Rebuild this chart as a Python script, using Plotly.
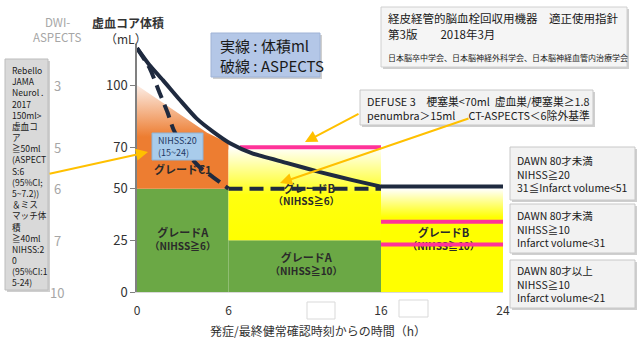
import plotly.graph_objects as go

# ---------------- data ----------------
x_ticks = [0, 6, 16, 24]
y_ticks = [0, 25, 50, 70, 100]
aspects_labels = ["10", "7", "6", "5", "3"]

# solid curve: core volume (mL)
solid_time = [0, 0.8, 1.7, 2.8, 3.9, 5.0, 6.1, 7.6, 9.8, 12.0, 14.2, 16, 24]
solid_vol = [118, 110, 102.5, 93, 84, 77.5, 72, 67, 62.5, 58, 54, 51, 51]

# dashed curve: ASPECTS
dash_time = [0, 0.85, 1.5, 2.0, 2.4, 3.3, 4.1, 5.0, 6.0, 16]
dash_vol = [118, 108, 96, 87, 78.5, 67, 60.5, 55.5, 50, 50]

# regions
greenA1_x = [0, 6, 6, 0]
greenA1_y = [0, 0, 50, 50]
orangeC1_x = [0, 0, 4.6, 6, 6]
orangeC1_y = [50, 100, 77, 72, 50]
greenA2_x = [6, 16, 16, 6]
greenA2_y = [0, 0, 25, 25]
yellow1_x = [6, 16, 16, 6]
yellow1_y = [25, 25, 69, 69]
yellow2_x = [16, 24, 24, 16]
yellow2_y = [0, 0, 50, 50]

# pink threshold lines
pink1_x, pink1_y = [6.75, 16], [70, 70]
pink2_x, pink2_y = [16, 24], [34, 34]
pink3_x, pink3_y = [16, 24], [23, 23]

FONT = "Noto Sans CJK JP, Noto Sans, sans-serif"

# --------------- helpers (pixel -> paper) ---------------
L, R, B, T = 137, 503, 292, 44
def px(x):
    return (x - L) / (R - L)
def py(y):
    return (B - y) / (B - T)

fig = go.Figure()

def region(xs, ys, color=None, grad=None):
    kw = dict(x=xs, y=ys, fill="toself", mode="lines", line=dict(width=0),
              hoverinfo="skip", showlegend=False)
    if grad:
        kw["fillgradient"] = dict(type="vertical", colorscale=grad)
        kw["fillcolor"] = grad[-1][1]
    else:
        kw["fillcolor"] = color
    fig.add_trace(go.Scatter(**kw))

GREEN = "#6BA845"
region(greenA1_x, greenA1_y, GREEN)
region(orangeC1_x, orangeC1_y, grad=[[0, "#ED7D31"], [0.5, "#ED7D31"], [1, "#FCEDE6"]])
region(greenA2_x, greenA2_y, GREEN)
region(yellow1_x, yellow1_y, grad=[[0, "#FFFF00"], [0.5, "#FFFF10"], [1, "#FFFFF2"]])
region(yellow2_x, yellow2_y, grad=[[0, "#FFFF00"], [0.72, "#FFFF00"], [1, "#FFFFFF"]])

# region labels (drawn beneath lines)
def label(x, y, text, size=11):
    fig.add_trace(go.Scatter(x=[x], y=[y], mode="text", text=[text],
                             textfont=dict(family=FONT, size=size, color="#2A2A2A"),
                             hoverinfo="skip", showlegend=False))

label(3.0, 58.5, "<b>グレードC1</b>")
label(3.0, 28, "<b>グレードA</b>")
label(3.0, 21.3, "<b>（NIHSS≧6）</b>", 10)
label(11.1, 16, "<b>グレードA</b>")
label(11.1, 9.2, "<b>（NIHSS≧10）</b>", 10)
label(20.1, 28, "<b>グレードB</b>")
label(20.1, 21.3, "<b>（NIHSS≧10）</b>", 10)
label(11.3, 49.4, "<b>グレードB</b>")
label(11.1, 43.3, "<b>（NIHSS≧6）</b>", 10)

PINK = "#FF3399"
for xs, ys in [(pink1_x, pink1_y), (pink2_x, pink2_y), (pink3_x, pink3_y)]:
    fig.add_trace(go.Scatter(x=xs, y=ys, mode="lines", line=dict(color=PINK, width=4),
                             hoverinfo="skip", showlegend=False))

NAVY = "#1F2A3F"
# dashed: curved part (spline) + flat part
fig.add_trace(go.Scatter(x=dash_time[:-1], y=dash_vol[:-1], mode="lines",
                         line=dict(color=NAVY, width=4, dash="14px,7px", shape="spline", smoothing=0.6),
                         hoverinfo="skip", showlegend=False))
fig.add_trace(go.Scatter(x=dash_time[-2:], y=dash_vol[-2:], mode="lines",
                         line=dict(color=NAVY, width=4, dash="14px,7px"),
                         hoverinfo="skip", showlegend=False))
# solid: curved part (spline) + flat part
fig.add_trace(go.Scatter(x=solid_time[:-1], y=solid_vol[:-1], mode="lines",
                         line=dict(color=NAVY, width=4, shape="spline", smoothing=0.6),
                         hoverinfo="skip", showlegend=False))
fig.add_trace(go.Scatter(x=solid_time[-2:], y=solid_vol[-2:], mode="lines",
                         line=dict(color=NAVY, width=4),
                         hoverinfo="skip", showlegend=False))

shapes = []
annotations = []

def box(x0, y0, x1, y1, fill, line="#C8C8C8", shadow=True):
    if shadow:
        shapes.append(dict(type="rect", xref="paper", yref="paper",
                           x0=px(x0 + 2), x1=px(x1 + 2), y0=py(y1 + 2), y1=py(y0 + 2),
                           fillcolor="#CFCFCF", line=dict(width=0), layer="above"))
    shapes.append(dict(type="rect", xref="paper", yref="paper",
                       x0=px(x0), x1=px(x1), y0=py(y1), y1=py(y0),
                       fillcolor=fill, line=dict(color=line, width=1), layer="above"))

def text(x, y, t, size=11, color="#1A1A1A", xanchor="left", yanchor="middle", align="left"):
    annotations.append(dict(xref="paper", yref="paper", x=px(x), y=py(y), text=t,
                            showarrow=False, xanchor=xanchor, yanchor=yanchor, align=align,
                            font=dict(family=FONT, size=size, color=color)))

def arrow(x_tip, y_tip, x_tail, y_tail):
    annotations.append(dict(xref="paper", yref="paper", x=px(x_tip), y=py(y_tip), text="",
                            showarrow=True, ax=x_tail - x_tip, ay=y_tail - y_tip,
                            arrowcolor="#FFC000", arrowwidth=2, arrowhead=2, arrowsize=1.2))

# left reference box
left_box_lines = ["Rebello", "JAMA", "Neurol .", "2017", "150ml>", "虚血コ", "ア", "≧50ml",
                  "(ASPECT", "S:6", "(95%CI;", "5~7.2))", "＆ミス", "マッチ体", "積", "≧40ml",
                  "NIHSS:2", "0", "(95%CI:1", "5-24)"]
box(5, 59, 48, 290, "#D9D9D9", "#BDBDBD")
text(10, 62, "<br>".join(left_box_lines), size=8.6, yanchor="top")
arrow(148, 152, 48, 174)

# NIHSS box
box(152, 133, 203, 160, "#A9CCEB", "#8DB3D8", shadow=False)
text(156, 146.5, "NIHSS:20<br>(15~24)", size=9, color="#1F3864")

# legend-ish box
box(211, 33, 320, 77, "#B4C7E7", "#9FB3D6")
text(218, 45, "実線 : 体積ml", size=15, color="#1A1A1A")
text(218, 65, "破線 : ASPECTS", size=15, color="#1A1A1A")

# top right box
box(381, 7, 627, 67, "#F5F5F5", "#D0D0D0")
text(386, 18, "経皮経管的脳血栓回収用機器　適正使用指針", size=11.5)
text(386, 34, "第3版　　2018年3月", size=11.5)
text(386, 58, "日本脳卒中学会、日本脳神経外科学会、日本脳神経血管内治療学会", size=8)

# DEFUSE box
box(360, 90, 593, 125, "#F2F2F2", "#C8C8C8")
text(365, 100.5, "DEFUSE 3　梗塞巣<70ml  虚血巣/梗塞巣≥1.8", size=10.8)
text(365, 115, "penumbra＞15ml　 CT-ASPECTS＜6除外基準", size=10.8)
arrow(305, 142, 360, 113)
arrow(280, 183, 470, 118)

# DAWN boxes
dawn_texts = ["DAWN 80才未満<br>NIHSS≧20<br>31≦Infarct volume<51",
              "DAWN 80才未満<br>NIHSS≧10<br>Infarct volume<31",
              "DAWN 80才以上<br>NIHSS≧10<br>Infarct volume<21"]
dawn_y = [(147, 200), (204, 253), (260, 308)]
for t, (y0, y1) in zip(dawn_texts, dawn_y):
    box(510, y0, 635, y1, "#F2F2F2", "#C8C8C8")
    text(515, (y0 + y1) / 2, t, size=10.5)

# empty boxes near x axis
for (x0, y0, x1, y1) in [(307, 302, 335, 319), (399, 300, 428, 317)]:
    shapes.append(dict(type="rect", xref="paper", yref="paper", x0=px(x0), x1=px(x1),
                       y0=py(y1), y1=py(y0), fillcolor="white",
                       line=dict(color="#D9D9D9", width=1), layer="above"))

# axis titles
text(128, 22, "<b>虚血コア体積</b>", size=12, color="#333333", xanchor="center")
text(126, 38, "（mL）", size=12, color="#333333", xanchor="center")
text(57, 22, "DWI-", size=11.5, color="#A6A6A6", xanchor="center")
text(57, 37, "ASPECTS", size=11.5, color="#A6A6A6", xanchor="center")
text(318, 330, "発症/最終健常確認時刻からの時間（h）", size=12, color="#333333", xanchor="center")

# DWI-ASPECTS scale labels
for v, lab in zip(y_ticks, aspects_labels):
    annotations.append(dict(xref="paper", yref="y", x=px(57), y=v, text=lab, showarrow=False,
                            xanchor="center", yanchor="middle",
                            font=dict(family=FONT, size=13, color="#A6A6A6")))

fig.update_layout(
    width=640, height=360, autosize=False,
    margin=dict(l=L, r=640 - R, t=T, b=360 - B),
    plot_bgcolor="white", paper_bgcolor="white",
    showlegend=False,
    font=dict(family=FONT, color="#333333"),
    shapes=shapes, annotations=annotations,
    xaxis=dict(range=[0, 24], tickvals=x_ticks, ticktext=[str(v) for v in x_ticks],
               showgrid=False, zeroline=False, showline=True, linecolor="#D9D9D9",
               ticks="", tickfont=dict(size=12, color="#333333"), ticklabelstandoff=8,
               fixedrange=True),
    yaxis=dict(range=[0, 120], tickvals=y_ticks, ticktext=[str(v) for v in y_ticks],
               showgrid=False, zeroline=False, showline=True, linecolor="#808080", linewidth=1.5,
               ticks="outside", ticklen=5, tickcolor="#808080",
               tickfont=dict(size=13, color="#333333"), fixedrange=True),
)

fig.write_html("out.html", config={"displayModeBar": False},
               post_script="document.body.style.margin='0px';")
